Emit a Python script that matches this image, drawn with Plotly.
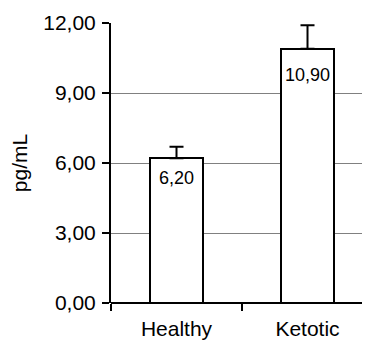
import plotly.graph_objects as go

categories = ["Healthy", "Ketotic"]
values = [6.20, 10.90]
errors = [0.50, 1.00]
value_labels = ["6,20", "10,90"]
y_tickvals = [0, 3, 6, 9, 12]
y_ticktext = ["0,00", "3,00", "6,00", "9,00", "12,00"]
y_title = "pg/mL"

FONT = "Liberation Sans, Arial, sans-serif"
label_offsets = [-20, -26]

fig = go.Figure()
fig.add_trace(go.Bar(
    x=categories, y=values, width=0.4,
    marker=dict(color="white", line=dict(color="black", width=2)),
    error_y=dict(type="data", symmetric=False, array=errors, arrayminus=[0] * len(errors),
                 color="black", thickness=2, width=7),
    showlegend=False, hoverinfo="skip",
))
for c, v, t, off in zip(categories, values, value_labels, label_offsets):
    fig.add_annotation(x=c, y=v, text=t, showarrow=False, yanchor="middle", yshift=off,
                       font=dict(family=FONT, size=18, color="black"))

# the page body adds an 8px margin, so the figure is sized to fit the window
fig.update_layout(
    width=362, height=333,
    margin=dict(l=103, r=0, t=15, b=38),
    plot_bgcolor="white", paper_bgcolor="white",
    font=dict(family=FONT, size=21, color="black"),
    bargap=0,
)
fig.update_xaxes(
    type="category", range=[-0.5, 1.477], tickson="boundaries", automargin=False,
    ticks="outside", ticklen=7, tickwidth=2, tickcolor="black",
    showline=False, showgrid=False, ticklabelstandoff=11,
    tickfont=dict(family=FONT, size=21, color="black"),
)
fig.update_yaxes(
    range=[0, 12], tickvals=y_tickvals, ticktext=y_ticktext, automargin=False,
    ticks="outside", ticklen=7, tickwidth=2, tickcolor="black",
    showline=True, linecolor="black", linewidth=2, ticklabelstandoff=2,
    showgrid=True, gridcolor="#808080", gridwidth=1,
    zeroline=True, zerolinecolor="black", zerolinewidth=2,
    tickfont=dict(family=FONT, size=21, color="black"),
    title=dict(text=y_title, font=dict(family=FONT, size=21, color="black"), standoff=16),
)

fig.write_html("out.html")
